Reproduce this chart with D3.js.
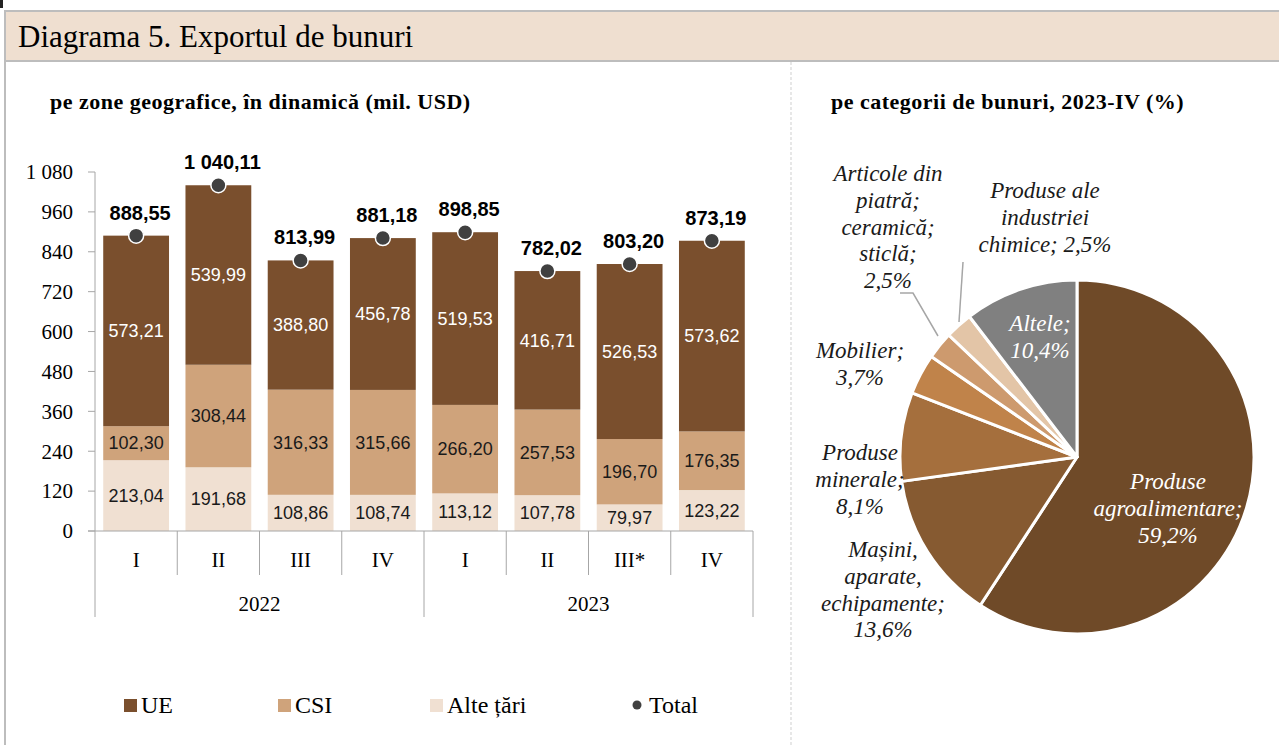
<!DOCTYPE html>
<html>
<head>
<meta charset="utf-8">
<script src="https://cdn.jsdelivr.net/npm/d3@7"></script>
<style>
  body { margin: 0; background: #fff; }
  svg { display: block; }
</style>
</head>
<body>
<div id="chart"></div>
<script>
// bar chart data (mil. USD)
const quarters = ["I", "II", "III", "IV", "I", "II", "III*", "IV"];
const years = ["2022", "2023"];
const ue = [573.21, 539.99, 388.80, 456.78, 519.53, 416.71, 526.53, 573.62];
const csi = [102.30, 308.44, 316.33, 315.66, 266.20, 257.53, 196.70, 176.35];
const alte = [213.04, 191.68, 108.86, 108.74, 113.12, 107.78, 79.97, 123.22];
const total = [888.55, 1040.11, 813.99, 881.18, 898.85, 782.02, 803.20, 873.19];
const yTicks = [0, 120, 240, 360, 480, 600, 720, 840, 960, 1080];

// pie data (%)
const pieLabels = [
  ["Produse", "agroalimentare;", "59,2%"],
  ["Mașini,", "aparate,", "echipamente;", "13,6%"],
  ["Produse", "minerale;", "8,1%"],
  ["Mobilier;", "3,7%"],
  ["Articole din", "piatră;", "ceramică;", "sticlă;", "2,5%"],
  ["Produse ale", "industriei", "chimice; 2,5%"],
  ["Altele;", "10,4%"]
];
const pieValues = [59.2, 13.6, 8.1, 3.7, 2.5, 2.5, 10.4];
const pieColors = ["#6f4a28", "#865a31", "#a56f3d", "#c0834a", "#cd9a6e", "#e3c5a7", "#808080"];

const W = 1279, H = 745;
const serif = "'Liberation Serif', 'DejaVu Serif', serif";
const sans = "'Liberation Sans', Arial, sans-serif";

const loc = d3.formatLocale({ decimal: ",", thousands: " ", grouping: [3], currency: ["", ""] });
const fmt2 = loc.format(",.2f");
const fmtTick = loc.format(",d");

const svg = d3.select("#chart").append("svg")
  .attr("width", W).attr("height", H);

// frame
svg.append("rect").attr("x", 0).attr("y", 0).attr("width", 3).attr("height", 8).attr("fill", "#222");
svg.append("rect")
  .attr("x", 5).attr("y", 11).attr("width", W - 5).attr("height", 50)
  .attr("fill", "#efdfd0");
svg.append("line").attr("x1", 5).attr("x2", W).attr("y1", 11).attr("y2", 11)
  .attr("stroke", "#bdbdbd").attr("stroke-width", 2);
svg.append("line").attr("x1", 5).attr("x2", W).attr("y1", 61).attr("y2", 61)
  .attr("stroke", "#bdbdbd").attr("stroke-width", 2);
svg.append("line").attr("x1", 5).attr("x2", 5).attr("y1", 10).attr("y2", H)
  .attr("stroke", "#bdbdbd").attr("stroke-width", 2);
svg.append("line").attr("x1", 791).attr("x2", 791).attr("y1", 62).attr("y2", H)
  .attr("stroke", "#cfcfcf").attr("stroke-width", 1).attr("stroke-dasharray", "3,2");

svg.append("text")
  .attr("x", 18).attr("y", 47)
  .style("font-family", serif).style("font-size", "31px")
  .text("Diagrama 5. Exportul de bunuri");

svg.append("text")
  .attr("x", 50).attr("y", 109)
  .style("font-family", serif).style("font-size", "22px").style("font-weight", "bold")
  .style("letter-spacing", "0.5px")
  .text("pe zone geografice, în dinamică (mil. USD)");

svg.append("text")
  .attr("x", 831).attr("y", 109)
  .style("font-family", serif).style("font-size", "22px").style("font-weight", "bold")
  .style("letter-spacing", "0.5px")
  .text("pe categorii de bunuri, 2023-IV (%)");

// ---------- stacked bars ----------
const x = d3.scaleBand().domain(d3.range(quarters.length)).range([95, 753]).paddingInner(0.2).paddingOuter(0.1);
const y = d3.scaleLinear().domain([0, 1080]).range([531, 172]);

const rows = quarters.map((q, i) => ({ i, alte: alte[i], csi: csi[i], ue: ue[i] }));
const keys = ["alte", "csi", "ue"];
const colors = { ue: "#7a4f2d", csi: "#cfa37b", alte: "#f0e0d2" };
const stacked = d3.stack().keys(keys)(rows);

const g = svg.append("g");

// y axis
g.append("line").attr("x1", 95).attr("x2", 95).attr("y1", y(1080)).attr("y2", y(0))
  .attr("stroke", "#a6a6a6");
yTicks.forEach(t => {
  g.append("line").attr("x1", 88).attr("x2", 95).attr("y1", y(t)).attr("y2", y(t)).attr("stroke", "#a6a6a6");
  g.append("text").attr("x", 73).attr("y", y(t)).attr("dy", "0.35em")
    .attr("text-anchor", "end")
    .style("font-family", serif).style("font-size", "21px").text(fmtTick(t));
});

stacked.forEach(layer => {
  g.selectAll(null).data(layer).enter().append("rect")
    .attr("x", d => x(d.data.i))
    .attr("width", x.bandwidth())
    .attr("y", d => y(d[1]))
    .attr("height", d => y(d[0]) - y(d[1]))
    .attr("fill", colors[layer.key]);
  g.selectAll(null).data(layer).enter().append("text")
    .attr("x", d => x(d.data.i) + x.bandwidth() / 2)
    .attr("y", d => (y(d[0]) + y(d[1])) / 2)
    .attr("dy", "0.35em")
    .attr("text-anchor", "middle")
    .attr("fill", layer.key === "ue" ? "#fff" : "#1a1a1a")
    .style("font-family", sans).style("font-size", "18px")
    .text(d => fmt2(d[1] - d[0]));
});

// x axis
g.append("line").attr("x1", 88).attr("x2", 753).attr("y1", y(0)).attr("y2", y(0)).attr("stroke", "#a6a6a6");
const step = x.step();
d3.range(quarters.length + 1).forEach(k => {
  const xx = 95 + k * step;
  const isYear = k % 4 === 0;
  g.append("line").attr("x1", xx).attr("x2", xx).attr("y1", y(0)).attr("y2", isYear ? 617 : 575)
    .attr("stroke", "#a6a6a6");
});
quarters.forEach((q, i) => {
  g.append("text").attr("x", x(i) + x.bandwidth() / 2).attr("y", 567)
    .attr("text-anchor", "middle")
    .style("font-family", serif).style("font-size", "21px").text(q);
});
years.forEach((yr, k) => {
  g.append("text").attr("x", 95 + (k * 4 + 2) * step).attr("y", 611)
    .attr("text-anchor", "middle")
    .style("font-family", serif).style("font-size", "21px").text(yr);
});

// totals
g.selectAll(null).data(total).enter().append("circle")
  .attr("cx", (d, i) => x(i) + x.bandwidth() / 2)
  .attr("cy", d => y(d))
  .attr("r", 7.5)
  .attr("fill", "#404040").attr("stroke", "#fff").attr("stroke-width", 1.5);
g.selectAll(null).data(total).enter().append("text")
  .attr("x", (d, i) => x(i) + x.bandwidth() / 2 + 4)
  .attr("y", d => y(d) - 16)
  .attr("text-anchor", "middle")
  .style("font-family", sans).style("font-size", "20px").style("font-weight", "bold")
  .text(d => fmt2(d));

// legend
const legend = [
  { label: "UE", type: "rect", color: colors.ue, x: 124 },
  { label: "CSI", type: "rect", color: colors.csi, x: 278 },
  { label: "Alte țări", type: "rect", color: colors.alte, x: 430 },
  { label: "Total", type: "dot", color: "#404040", x: 632 }
];
legend.forEach(l => {
  if (l.type === "rect") {
    svg.append("rect").attr("x", l.x).attr("y", 699).attr("width", 13).attr("height", 13).attr("fill", l.color);
  } else {
    svg.append("circle").attr("cx", l.x + 5).attr("cy", 705).attr("r", 4.5).attr("fill", l.color);
  }
  svg.append("text").attr("x", l.x + 17).attr("y", 713)
    .style("font-family", serif).style("font-size", "24px").text(l.label);
});

// ---------- pie ----------
const cx = 1077, cy = 457, R = 177;
const pie = d3.pie().sort(null).value(d => d)(pieValues);
const arc = d3.arc().innerRadius(0).outerRadius(R);
const pg = svg.append("g").attr("transform", `translate(${cx},${cy})`);
pg.selectAll("path").data(pie).enter().append("path")
  .attr("d", arc)
  .attr("fill", (d, i) => pieColors[i])
  .attr("stroke", "#fff").attr("stroke-width", 3).attr("stroke-linejoin", "round");

// leader lines
svg.append("polyline")
  .attr("points", "900,293 913,293 938,336")
  .attr("fill", "none").attr("stroke", "#a6a6a6").attr("stroke-width", 1.5);
svg.append("line")
  .attr("x1", 963).attr("y1", 262).attr("x2", 959).attr("y2", 322)
  .attr("stroke", "#a6a6a6").attr("stroke-width", 1.5);

const labelPos = [
  { x: 1168, y: 481, color: "#fff" },
  { x: 883, y: 549, color: "#1a1a1a" },
  { x: 860, y: 452, color: "#1a1a1a" },
  { x: 860, y: 350, color: "#1a1a1a" },
  { x: 888, y: 173, color: "#1a1a1a" },
  { x: 1045, y: 190, color: "#1a1a1a" },
  { x: 1040, y: 323, color: "#fff" }
];
pieLabels.forEach((lines, i) => {
  const p = labelPos[i];
  const t = svg.append("text")
    .attr("text-anchor", "middle")
    .attr("fill", p.color)
    .style("font-family", serif).style("font-size", "23px").style("font-style", "italic");
  lines.forEach((ln, k) => {
    t.append("tspan").attr("x", p.x).attr("y", p.y + k * 26.8).attr("dy", "0.35em").text(ln);
  });
});
</script>
</body>
</html>
